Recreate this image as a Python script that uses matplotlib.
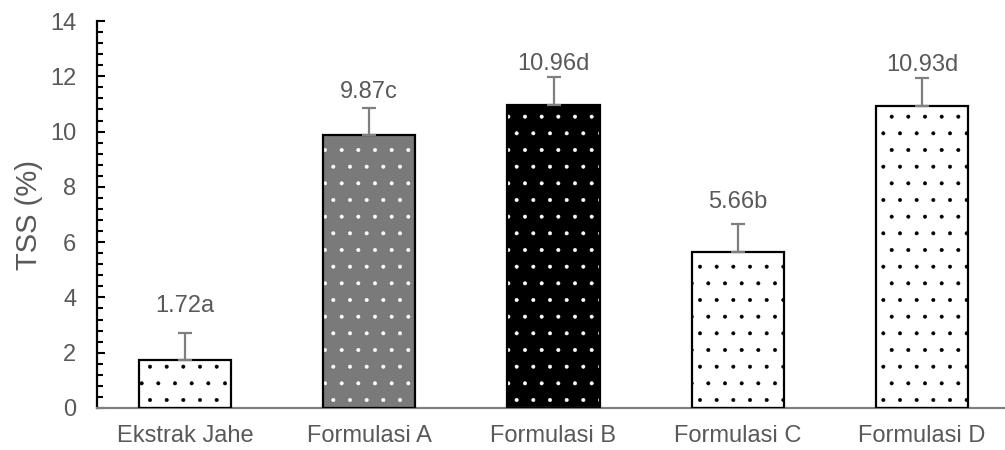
import numpy as np
import matplotlib
matplotlib.use('Agg')
import matplotlib.pyplot as plt
from matplotlib.ticker import MultipleLocator

# data
categories = ['Ekstrak Jahe', 'Formulasi A', 'Formulasi B', 'Formulasi C', 'Formulasi D']
tss = [1.72, 9.87, 10.96, 5.66, 10.93]
err = [1.0, 1.0, 1.0, 1.0, 1.0]
letters = ['a', 'c', 'd', 'b', 'd']

# fill styles per bar
faces = ['white', '#7a7a7a', 'black', 'white', 'white']
hatch_cols = ['black', 'white', 'white', 'black', 'black']
hatches = ['.', '.', '.', '.', '.']

plt.rcParams['font.family'] = ['Liberation Sans', 'DejaVu Sans']
plt.rcParams['hatch.linewidth'] = 0.4
grey = '#595959'

fig = plt.figure(figsize=(10.05, 4.5), dpi=100)
ax = fig.add_axes([97/1005, 42/450, 913/1005, 387/450])

x = np.arange(len(categories))
w = 0.5

for i in range(len(categories)):
    ax.bar(x[i], tss[i], w, color=faces[i], edgecolor=hatch_cols[i],
           hatch=hatches[i], linewidth=0, zorder=2)
ax.bar(x, tss, w, fill=False, edgecolor='black', linewidth=1.6, zorder=3)

ax.errorbar(x, tss, yerr=[np.zeros(len(err)), err], fmt='none',
            ecolor='#7f7f7f', elinewidth=1.6, capsize=5, capthick=1.6, zorder=4)

# labels were placed by hand in the original, so gaps differ a bit
gaps = [11.5, 3.6, 1.5, 8, 1.5]
for i in range(len(categories)):
    ax.annotate('%.2f%s' % (tss[i], letters[i]), (x[i], tss[i] + err[i]),
                xytext=(0, gaps[i]), textcoords='offset points',
                ha='center', va='bottom', fontsize=17, color=grey)

ax.set_xlim(-0.477, 4.477)
ax.set_ylim(0, 14)
ax.yaxis.set_major_locator(MultipleLocator(2))
ax.yaxis.set_minor_locator(MultipleLocator(0.4))
ax.tick_params(axis='y', which='major', direction='in', length=6, width=1.5,
               labelsize=17, labelcolor=grey, pad=15)
ax.tick_params(axis='y', which='minor', direction='in', length=4, width=1.5)
ax.set_xticks(x)
ax.set_xticklabels(categories)
ax.tick_params(axis='x', length=0, labelsize=17, labelcolor=grey, pad=12)

ax.spines['top'].set_visible(False)
ax.spines['right'].set_visible(False)
ax.spines['left'].set_linewidth(1.6)
ax.spines['bottom'].set_color('#808080')
ax.spines['bottom'].set_linewidth(1.6)

ax.set_ylabel('TSS (%)', fontsize=21, color=grey, labelpad=5)

fig.savefig('out.png', dpi=100)
